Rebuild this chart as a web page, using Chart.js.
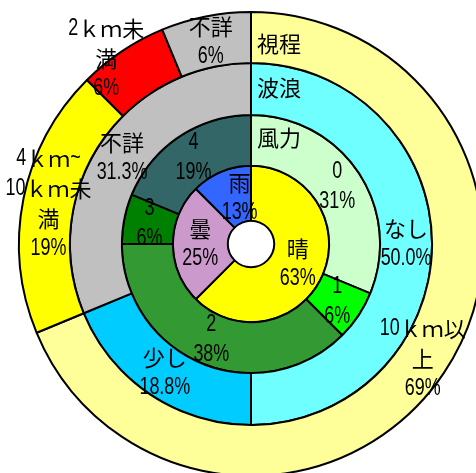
<!DOCTYPE html>
<html>
<head>
<meta charset="utf-8">
<script src="https://cdn.jsdelivr.net/npm/chart.js@4.4.0/dist/chart.umd.min.js"></script>
<style>
  html, body { margin: 0; padding: 0; background: #fff; overflow: hidden; width: 476px; height: 473px; }
  #wrap { position: absolute; left: 0; top: 0; width: 484px; height: 477px; }
</style>
</head>
<body>
<div id="wrap"><canvas id="myChart" width="484" height="477"></canvas></div>
<script>
// 視程 (外側のリング)
const visLabels = ['10ｋｍ以\n上', '4ｋｍ~\n10ｋｍ未\n満', '2ｋｍ未\n満', '不詳']
const visCounts = [11, 3, 1, 1]
const visColors = ['#FFFF99', '#FFFF00', '#FF0000', '#C0C0C0']

// 波浪
const waveLabels = ['なし', '少し', '不詳']
const waveCounts = [8, 3, 5]
const waveColors = ['#70FFFF', '#00CCFF', '#C0C0C0']

// 風力
const windLabels = ['0', '1', '2', '3', '4']
const windCounts = [5, 1, 6, 1, 3]
const windColors = ['#CCFFCC', '#00FF00', '#339933', '#008000', '#336666']

// 天気 (内側)
const weatherLabels = ['晴', '曇', '雨']
const weatherCounts = [10, 4, 2]
const weatherColors = ['#FFFF00', '#CC99CC', '#3366FF']

// 英数字は細めのフォント、漢字・かなはCJKフォント
const LATIN_FONT = "23px 'Liberation Sans', Arial, sans-serif"
const LATIN_SCALE = 0.78
const CJK_FONT = "22px 'Noto Sans CJK JP', sans-serif"
const LINE = 30

//ラベルの微調整 (データセット番号:要素番号)
const nudge = { '0:2': [-30, -14], '3:2': [8, 0] }
//系列名の縦位置の調整 (リング中央から)
const seriesNudge = [6, -1, -3]

function pct(counts, i, digits) {
  const total = counts.reduce((a, b) => a + b, 0)
  return (counts[i] / total * 100).toFixed(digits) + '%'
}

// 文字列を英数字とCJKの塊に分ける
function splitRuns(text) {
  const runs = []
  for (const ch of text) {
    const latin = ch.charCodeAt(0) < 0x2000
    const last = runs[runs.length - 1]
    if (last && last.latin === latin) last.text += ch
    else runs.push({ latin: latin, text: ch })
  }
  return runs
}

function runWidth(ctx, run) {
  ctx.font = run.latin ? LATIN_FONT : CJK_FONT
  const w = ctx.measureText(run.text).width
  return run.latin ? w * LATIN_SCALE : w
}

// align: 'center' か 'left'
function drawMixed(ctx, text, x, y, align) {
  const runs = splitRuns(text)
  const widths = runs.map(r => runWidth(ctx, r))
  const total = widths.reduce((a, b) => a + b, 0)
  let cx = align === 'center' ? x - total / 2 : x
  runs.forEach(function (r, k) {
    ctx.font = r.latin ? LATIN_FONT : CJK_FONT
    ctx.save()
    ctx.translate(cx, y)
    if (r.latin) ctx.scale(LATIN_SCALE, 1)
    ctx.fillText(r.text, 0, 0)
    ctx.restore()
    cx += widths[k]
  })
}

const ringLabelPlugin = {
  id: 'ringLabels',
  afterDatasetsDraw: function (chart) {
    const ctx = chart.ctx
    ctx.save()
    ctx.fillStyle = '#000'
    ctx.textBaseline = 'middle'
    ctx.textAlign = 'left'
    chart.data.datasets.forEach(function (ds, di) {
      const meta = chart.getDatasetMeta(di)
      meta.data.forEach(function (arc, i) {
        const pos = arc.tooltipPosition()
        const n = nudge[di + ':' + i] || [0, 0]
        const lines = ds.catLabels[i].split('\n')
        lines.push(pct(ds.data, i, ds.digits))
        const top = pos.y + n[1] - (lines.length - 1) * LINE / 2
        lines.forEach(function (t, k) {
          drawMixed(ctx, t, pos.x + n[0], top + k * LINE, 'center')
        })
      })
      // 系列名はリングの始まり (真上) に
      if (ds.seriesName) {
        const a = meta.data[0]
        const y = a.y - (a.innerRadius + a.outerRadius) / 2 + seriesNudge[di]
        drawMixed(ctx, ds.seriesName, a.x + 6, y, 'left')
      }
    })
    ctx.restore()
  },
}

const ctx = document.getElementById('myChart').getContext('2d')

new Chart(ctx, {
  type: 'doughnut',
  data: {
    datasets: [
      { seriesName: '視程', catLabels: visLabels, digits: 0, data: visCounts, backgroundColor: visColors, weight: 51 },
      { seriesName: '波浪', catLabels: waveLabels, digits: 1, data: waveCounts, backgroundColor: waveColors, weight: 52 },
      { seriesName: '風力', catLabels: windLabels, digits: 0, data: windCounts, backgroundColor: windColors, weight: 51 },
      { seriesName: null, catLabels: weatherLabels, digits: 0, data: weatherCounts, backgroundColor: weatherColors, weight: 55 },
    ],
  },
  options: {
    responsive: false,
    animation: false,
    events: [],
    cutout: '10%',
    borderColor: '#000',
    borderWidth: 2,
    hoverOffset: 0,
    offset: 0,
    // 円の外側にはみ出すラベル用に左上へ余白
    layout: { padding: { left: 18, top: 11, right: 0, bottom: 0 } },
    plugins: {
      legend: { display: false },
      tooltip: { enabled: false },
    },
  },
  plugins: [ringLabelPlugin],
})
</script>
</body>
</html>
